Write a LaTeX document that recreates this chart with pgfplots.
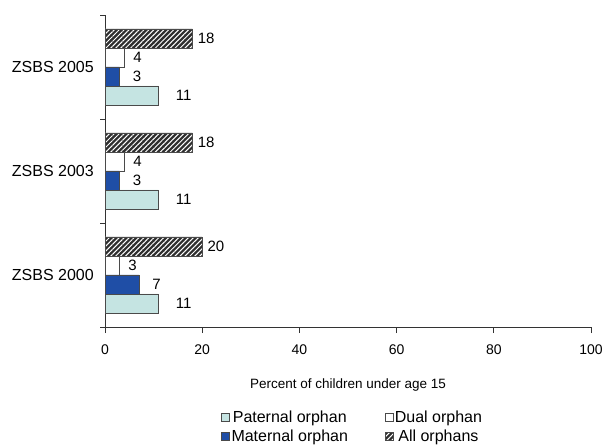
\documentclass[border=0pt]{standalone}
\usepackage{fontspec}
\setmainfont{Liberation Sans}
\usepackage{pgfplots}
\pgfplotsset{compat=1.18}
\usetikzlibrary{patterns.meta}

\definecolor{paternal}{HTML}{C5E4E2}
\definecolor{maternal}{HTML}{1F4EA6}
\definecolor{allorph}{HTML}{2E2E2E}
\definecolor{edgec}{HTML}{4A4A4A}

\pgfplotsset{
  boxlegend/.style={legend image code/.code={\draw[##1, line width=0.8bp] (0bp,-4bp) rectangle (8bp,4bp);}},
}

\begin{document}
\begin{tikzpicture}
\useasboundingbox (0,0) rectangle (608bp,446bp);
\begin{axis}[
  at={(105bp,119bp)}, anchor=south west,
  scale only axis, width=486bp, height=312bp,
  xbar, bar width=19bp,
  xmin=0, xmax=100, ymin=-0.5, ymax=2.5,
  xtick={0,20,...,100},
  ytick={0,1,2}, yticklabels={ZSBS 2000,ZSBS 2003,ZSBS 2005},
  minor ytick={-0.5,0.5,1.5,2.5},
  axis lines*=left,
  axis line style={black!80, line width=0.8bp},
  tick align=outside,
  major tick length=6bp, minor tick length=5bp,
  tick style={black!80, line width=0.8bp},
  major y tick style={draw=none},
  /pgf/number format/assume math mode=true,
  xticklabel style={font=\fontsize{14bp}{16bp}\selectfont, inner sep=0pt, anchor=north, yshift=-12bp},
  yticklabel style={font=\fontsize{16bp}{18bp}\selectfont, inner sep=0pt, anchor=east, xshift=-5bp},
  xlabel={Percent of children under age 15},
  xlabel style={font=\fontsize{13.5bp}{15bp}\selectfont, at={(axis description cs:0.5,0)}, anchor=center, yshift=-58bp},
  nodes near coords,
  nodes near coords style={font=\fontsize{15bp}{17bp}\selectfont, anchor=west, inner sep=0pt, black},
  legend columns=2,
  legend style={draw=none, fill=none, at={(axis description cs:0.2387,-0.262)}, anchor=north west,
    font=\fontsize{16bp}{18bp}\selectfont, inner sep=0pt, row sep=3bp,
    nodes={inner sep=1.5bp},
    /tikz/every even column/.append style={column sep=35bp}},
]
\addplot[boxlegend, bar shift=-28.5bp, fill=paternal, draw=edgec, line width=0.8bp,
  nodes near coords style={xshift=17bp}] coordinates {(11,0) (11,1) (11,2)};
\addlegendentry{Paternal orphan}
\addplot[boxlegend, bar shift=9.5bp, fill=white, draw=edgec, line width=0.8bp,
  nodes near coords style={xshift=8.5bp}] coordinates {(3,0) (4,1) (4,2)};
\addlegendentry{Dual orphan}
\addplot[boxlegend, bar shift=-9.5bp, fill=maternal, draw=edgec, line width=0.8bp,
  nodes near coords style={xshift=13bp}] coordinates {(7,0) (3,1) (3,2)};
\addlegendentry{Maternal orphan}
\addplot[boxlegend, bar shift=28.5bp, fill=allorph, draw=edgec, line width=0.8bp,
  postaction={pattern={Lines[angle=45,distance=3.5bp,line width=1bp]}, pattern color=white},
  nodes near coords style={xshift=5bp}] coordinates {(20,0) (18,1) (18,2)};
\addlegendentry{All orphans}
\end{axis}
\end{tikzpicture}
\end{document}
